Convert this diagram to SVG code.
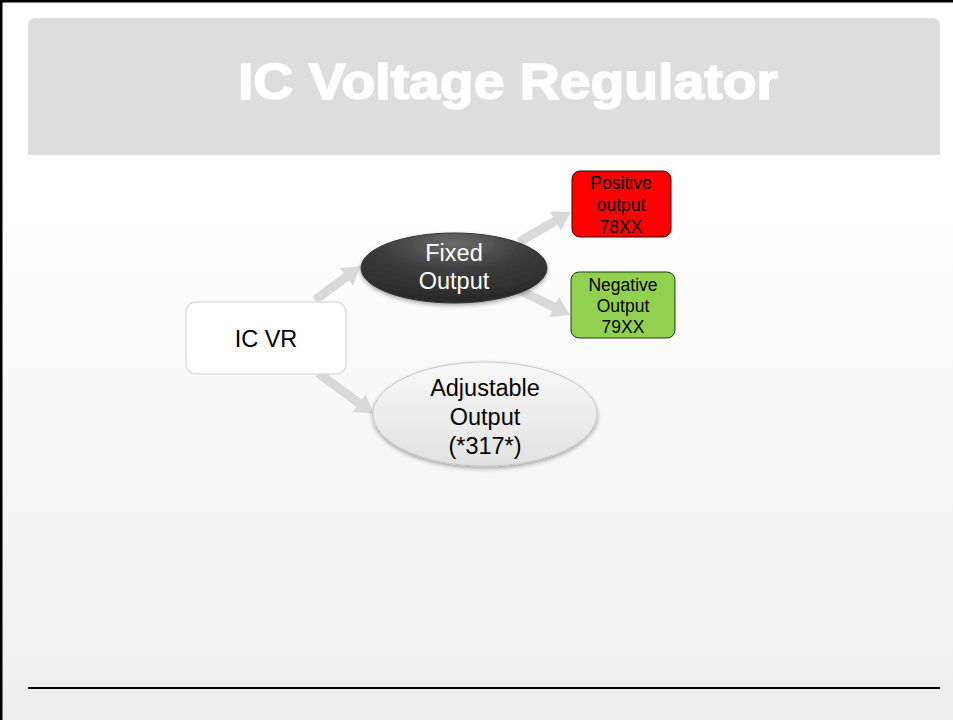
<svg xmlns="http://www.w3.org/2000/svg" width="953" height="720" viewBox="0 0 953 720">
<defs>
<linearGradient id="bg" x1="0" y1="0" x2="0" y2="1">
<stop offset="0" stop-color="#ffffff"/>
<stop offset="0.25" stop-color="#ffffff"/>
<stop offset="1" stop-color="#eeeeee"/>
</linearGradient>
<radialGradient id="dark" cx="0.5" cy="0.15" r="0.8">
<stop offset="0" stop-color="#6a6a6a"/>
<stop offset="0.5" stop-color="#3c3c3c"/>
<stop offset="1" stop-color="#2a2a2a"/>
</radialGradient>
<linearGradient id="light" x1="0" y1="0" x2="0" y2="1">
<stop offset="0" stop-color="#f8f8f8"/>
<stop offset="1" stop-color="#e2e2e2"/>
</linearGradient>
<filter id="sh" x="-20%" y="-20%" width="140%" height="150%">
<feGaussianBlur in="SourceAlpha" stdDeviation="2"/>
<feOffset dx="0" dy="2" result="b"/>
<feComponentTransfer><feFuncA type="linear" slope="0.35"/></feComponentTransfer>
<feMerge><feMergeNode/><feMergeNode in="SourceGraphic"/></feMerge>
</filter>
</defs>
<style>
text{font-family:"Liberation Sans",Arial,sans-serif;text-anchor:middle}
.t20{font-size:23.5px;fill:#000}
.w{fill:#fff}
.t14{font-size:17.5px;fill:#000}
.arr{fill:#d9d9d9}
</style>
<rect x="0" y="0" width="953" height="720" fill="url(#bg)"/>
<path d="M1,720 V1 H953" fill="none" stroke="#000" stroke-width="3"/>
<g id="title">
<path d="M36,18 H932 Q940,18 940,26 V155 H28 V26 Q28,18 36,18 Z" fill="#dddddd"/>
<text x="508" y="99" font-size="50" font-weight="bold" fill="#ffffff" stroke="#ffffff" stroke-width="1.6" textLength="540" lengthAdjust="spacingAndGlyphs">IC Voltage Regulator</text>
</g>
<line x1="28" y1="688" x2="940" y2="688" stroke="#000" stroke-width="2"/>
<g id="connectors">
<path class="arr" transform="translate(315,300) rotate(-36.5)" d="M0,-4.5 L39,-4.5 L39,-11 L57,0 L39,11 L39,4.5 L0,4.5 Z"/>
<path class="arr" transform="translate(318,373) rotate(36.2)" d="M0,-4.5 L51,-4.5 L51,-11 L69,0 L51,11 L51,4.5 L0,4.5 Z"/>
<path class="arr" transform="translate(519,242) rotate(-30)" d="M0,-4.5 L42,-4.5 L42,-11 L60,0 L42,11 L42,4.5 L0,4.5 Z"/>
<path class="arr" transform="translate(519,290) rotate(26)" d="M0,-4.5 L39,-4.5 L39,-11 L57,0 L39,11 L39,4.5 L0,4.5 Z"/>
</g>
<g id="icvr">
<rect x="186" y="302" width="160" height="72" rx="10" fill="#ffffff" stroke="#dedede" stroke-width="1.5"/>
<text class="t20" x="266" y="347">IC VR</text>
</g>
<g id="fixed">
<ellipse cx="454" cy="268" rx="93" ry="35" fill="url(#dark)" stroke="#333" stroke-width="1" filter="url(#sh)"/>
<text class="t20 w" x="454" y="261">Fixed</text>
<text class="t20 w" x="454" y="289">Output</text>
</g>
<g id="positive">
<rect x="572" y="171" width="99" height="66" rx="8" fill="#ff0000" stroke="#3a0000" stroke-width="1"/>
<text class="t14" x="621" y="189">Positive</text>
<text class="t14" x="621" y="211">output</text>
<text class="t14" x="621" y="233">78XX</text>
</g>
<g id="negative">
<rect x="571" y="272" width="104" height="66" rx="8" fill="#92d050" stroke="#243a10" stroke-width="1"/>
<text class="t14" x="623" y="291">Negative</text>
<text class="t14" x="623" y="312">Output</text>
<text class="t14" x="623" y="333">79XX</text>
</g>
<g id="adjustable">
<ellipse cx="485" cy="414" rx="112" ry="52" fill="url(#light)" stroke="#c8c8c8" stroke-width="1" filter="url(#sh)"/>
<text class="t20" x="485" y="396">Adjustable</text>
<text class="t20" x="485" y="425">Output</text>
<text class="t20" x="485" y="454">(*317*)</text>
</g>
</svg>
